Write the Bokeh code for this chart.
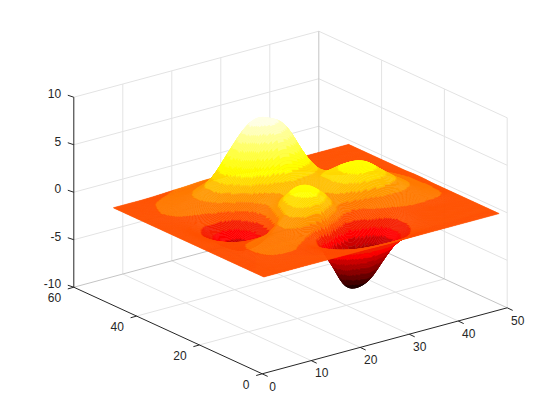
from bokeh.plotting import figure
from bokeh.models import Range1d, ColumnDataSource
from bokeh.embed import file_html
from bokeh.resources import INLINE
from bokeh.core.properties import value
import numpy as np

x_ticks = [0, 10, 20, 30, 40, 50]
y_ticks = [0, 20, 40, 60]
z_ticks = [-10, -5, 0, 5, 10]
x_labels = ["0", "10", "20", "30", "40", "50"]
y_labels = ["0", "20", "40", "60"]
z_labels = ["-10", "-5", "0", "5", "10"]

sample_x = [1, 4, 7, 10, 13, 16, 19, 22, 25, 28, 31, 34, 37, 40, 43, 46, 49]
sample_y = [1, 4, 7, 10, 13, 16, 19, 22, 25, 28, 31, 34, 37, 40, 43, 46, 49]
z_y01 = [-.1,-.1,-.1,-.1,-.1,-.1,-.1,-.1,-.1,-.1,-.1,-.1,-.1,-.1,-.1,-.1,-.1]
z_y04 = [-.1,-.1,-.1,-.1,-.1,-.1,-.25,-.6,-.9,-1.,-.8,-.4,-.15,-.1,-.1,-.1,-.1]
z_y07 = [-.1,-.1,-.05,-.03,-.05,-.2,-.7,-1.9,-2.9,-2.9,-2.1,-.9,-.2,-.1,-.1,-.1,-.1]
z_y10 = [-.1,-.1,.05,.15,.1,-.2,-1.1,-3.4,-5.2,-5.6,-3.8,-1.5,-.3,-.1,-.1,-.1,-.1]
z_y13 = [-.1,-.05,.08,.25,.35,.3,-.4,-3.0,-5.8,-5.9,-4.0,-1.5,-.25,-.05,-.1,-.1,-.1]
z_y16 = [-.1,-.05,.05,.2,.5,1.0,1.8,2.0,-.1,-1.8,-1.0,-.2,.15,.25,.25,.1,-.1]
z_y19 = [-.1,-.1,-.1,-.2,-.05,1.1,2.8,3.5,2.4,.5,.1,.6,1.0,.9,.6,.2,-.1]
z_y22 = [-.1,-.15,-.5,-1.3,-1.6,-.5,2.6,3.4,2.4,1.3,2.0,3.0,3.0,2.0,1.0,.25,-.1]
z_y25 = [-.1,-.2,-.9,-2.0,-2.4,-1.1,1.3,2.1,2.0,1.6,2.5,3.5,3.4,2.2,1.0,.2,-.05]
z_y28 = [-.1,-.2,-1.0,-2.1,-2.6,-1.1,.8,1.5,1.8,1.9,2.4,3.0,2.8,1.8,.8,.15,-.05]
z_y31 = [-.1,-.15,-.6,-1.3,-1.4,-.1,1.3,2.2,2.9,2.6,2.2,2.0,1.6,1.0,.4,.05,-.1]
z_y34 = [-.1,-.1,-.2,-.2,.3,1.4,3.6,5.6,6.6,5.6,3.3,1.4,.7,.4,.1,-.05,-.1]
z_y37 = [-.1,-.05,.1,.4,1.0,2.7,5.4,7.5,7.7,6.8,3.9,1.3,.4,.1,-.05,-.1,-.1]
z_y40 = [-.1,0,.15,.5,1.1,2.5,4.8,6.6,7.0,5.4,2.8,.8,.1,-.1,-.1,-.1,-.1]
z_y43 = [-.1,-.05,.1,.3,.7,1.3,2.3,3.0,3.0,2.1,1.0,.2,-.1,-.1,-.1,-.1,-.1]
z_y46 = [-.1,-.1,0,.1,.25,.4,.7,.85,.8,.5,.2,0,-.1,-.1,-.1,-.1,-.1]
z_y49 = [-.1,-.1,-.1,-.05,.03,.1,.2,.2,.15,.05,-.05,-.1,-.1,-.1,-.1,-.1,-.1]
heights = [z_y01, z_y04, z_y07, z_y10, z_y13, z_y16, z_y19, z_y22, z_y25,
           z_y28, z_y31, z_y34, z_y37, z_y40, z_y43, z_y46, z_y49]

band_low = -6.55
band_step = 0.7325
band_colors = ["#230000", "#460000", "#690000", "#8c0000", "#af0000", "#cd0000", "#ff0000", "#f51e00",
               "#ff5000", "#ff7800", "#ff9600", "#ffbe00", "#ffdc00", "#ffff00", "#ffff1e", "#ffff46",
               "#ffff6e", "#ffff96", "#ffffbe", "#ffffe6"]


def project(x, y, z):
    x, y, z = np.asarray(x, float), np.asarray(y, float), np.asarray(z, float)
    return (261.7 + 4.9 * x - 3.14 * y,
            373.3 - 1.32 * x - 1.443 * y - 9.5 * (z + 10))


def refine(table, sub):
    """Smooth subdivision of the sample table for drawing (Catmull-Rom)."""
    def along(a):
        n = a.shape[0]
        out = []
        for i in range(n - 1):
            p0 = a[max(i - 1, 0)]; p1 = a[i]; p2 = a[i + 1]; p3 = a[min(i + 2, n - 1)]
            for k in range(sub):
                t = k / sub
                out.append(0.5 * (2 * p1 + (p2 - p0) * t + (2 * p0 - 5 * p1 + 4 * p2 - p3) * t ** 2
                                  + (3 * p1 - p0 - 3 * p2 + p3) * t ** 3))
        out.append(a[-1])
        return np.array(out)
    return along(along(table).T).T


p = figure(width=552, height=412, output_backend="svg", toolbar_location=None,
           x_range=Range1d(0, 552), y_range=Range1d(412, 0), min_border=0)
p.axis.visible = False
p.grid.visible = False
p.outline_line_color = None
p.background_fill_color = "white"
p.border_fill_color = "white"

GRID = "#e3e3e3"
EDGE = "#c4c4c4"
INK = "#262626"
xmax, ymax, zmin, zmax = x_ticks[-1], y_ticks[-1], z_ticks[0], z_ticks[-1]


def seg(pts, color, width=1.0):
    a = np.array(pts, float)
    px, py = project(a[:, 0], a[:, 1], a[:, 2])
    p.line(px, py, line_color=color, line_width=width)


for xv in x_ticks[1:-1]:
    seg([(xv, 0, zmin), (xv, ymax, zmin), (xv, ymax, zmax)], GRID)
for yv in y_ticks[1:-1]:
    seg([(0, yv, zmin), (xmax, yv, zmin), (xmax, yv, zmax)], GRID)
for zv in z_ticks[1:]:
    seg([(0, ymax, zv), (xmax, ymax, zv), (xmax, 0, zv)], GRID)
seg([(xmax, 0, zmin), (xmax, 0, zmax)], GRID)
seg([(0, ymax, zmin), (xmax, ymax, zmin), (xmax, 0, zmin)], EDGE)
seg([(xmax, ymax, zmin), (xmax, ymax, zmax)], EDGE)

# surface: back to front, strips of equal band along each row
sub = 12
Z = refine(np.array(heights, float), sub)
gx = np.linspace(sample_x[0], sample_x[-1], Z.shape[1])
gy = np.linspace(sample_y[0], sample_y[-1], Z.shape[0])
cell = (Z[:-1, :-1] + Z[1:, :-1] + Z[:-1, 1:] + Z[1:, 1:]) / 4
idx = np.clip(np.floor((cell - band_low) / band_step).astype(int), 0, len(band_colors) - 1)
xs, ys, cs = [], [], []
for j in range(idx.shape[0] - 1, -1, -1):
    i = idx.shape[1] - 1
    while i >= 0:
        k = i
        while k > 0 and idx[j, k - 1] == idx[j, i]:
            k -= 1
        ii = np.arange(k, i + 2)
        ax, ay = project(gx[ii], np.full(ii.shape, gy[j]), Z[j, ii])
        bx, by = project(gx[ii], np.full(ii.shape, gy[j + 1]), Z[j + 1, ii])
        xs.append(np.r_[ax, bx[::-1]].round(2).tolist())
        ys.append(np.r_[ay, by[::-1]].round(2).tolist())
        cs.append(band_colors[idx[j, i]])
        i = k - 1
p.patches(xs="xs", ys="ys", fill_color="c", line_color="c", line_width=0.5,
          source=ColumnDataSource(dict(xs=xs, ys=ys, c=cs)))

# axes
seg([(0, 0, zmin), (xmax, 0, zmin)], INK)
seg([(0, 0, zmin), (0, ymax, zmin)], INK)
seg([(0, ymax, zmin), (0, ymax, zmax)], INK)


def text(tx, ty, labels, align):
    p.text(x=tx, y=ty, text=labels, text_font=value("Liberation Sans"), text_font_size="12px",
           text_color=INK, text_align=align, text_baseline="middle")


tx, ty = project(x_ticks, [0] * len(x_ticks), [zmin] * len(x_ticks))
p.segment(tx, ty, tx + 5.5, ty + 2.6, line_color=INK)
text(tx + 10.5, ty + 12.2, x_labels, "center")
tx, ty = project([0] * len(y_ticks), y_ticks, [zmin] * len(y_ticks))
p.segment(tx, ty, tx - 6, ty + 1.7, line_color=INK)
text(tx - 12.7, ty + 10.7, y_labels, "right")
tx, ty = project([0] * len(z_ticks), [ymax] * len(z_ticks), z_ticks)
p.segment(tx, ty, tx - 6, ty - 2, line_color=INK)
text(tx - 12.6, ty - 3.6, z_labels, "right")

open("out.html", "w").write(file_html(p, INLINE))
